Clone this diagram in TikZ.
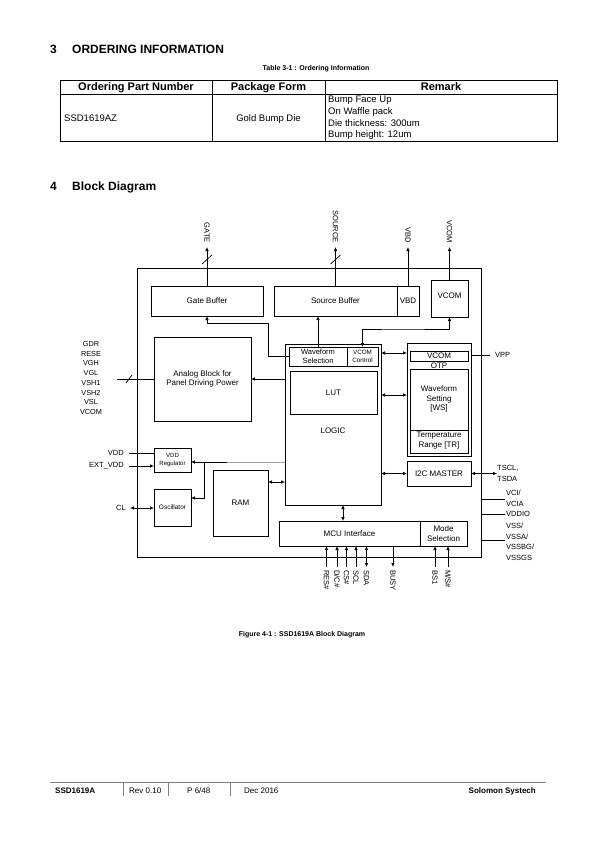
\documentclass[tikz,border=0pt]{standalone}
\usepackage{fontspec}
\setmainfont{Liberation Sans}
\usetikzlibrary{arrows.meta,calc}
\newcommand\mkbox[7][]{\node[bx,#1,minimum width={#5pt-#3pt},minimum height={#6pt-#4pt}] (#2) at ({(#3+#5)/2},{(#4+#6)/2}) {#7};}
\begin{document}
\begin{tikzpicture}[x=1pt,y=-1pt,
  bx/.style={draw, line width=0.7pt, inner sep=0pt, outer sep=0pt, align=center, font=\fontsize{8}{9.5}\selectfont},
  ln/.style={line width=0.7pt},
  arr/.style={ln, -{Latex[length=4pt,width=3.5pt]}},
  darr/.style={ln, {Latex[length=4pt,width=3.5pt]}-{Latex[length=4pt,width=3.5pt]}},
  lbl/.style={inner sep=0pt, align=left, font=\fontsize{7.3}{9.7}\selectfont},
  pin/.style={inner sep=0pt, font=\fontsize{7.5}{8.5}\selectfont},
  hd/.style={inner sep=0pt, anchor=base west, font=\fontsize{12}{14}\selectfont\bfseries},
  th/.style={inner sep=0pt, anchor=base, font=\fontsize{11}{13}\selectfont\bfseries},
  td/.style={inner sep=0pt, anchor=base, font=\fontsize{9.5}{11}\selectfont},
  ft/.style={inner sep=0pt, anchor=base west, font=\fontsize{8}{9}\selectfont},
]
\path[use as bounding box, fill=white] (0,0) rectangle (595,842);

% ---------- Section 3 ----------
\node[hd] (h3n) at (50,54) {3};
\node[hd] (h3t) at (72,54) {ORDERING INFORMATION};
\node[inner sep=0pt, font=\fontsize{7}{8}\selectfont\bfseries] (tcap) at (316,69) {Table 3-1 : Ordering Information};
\draw[ln] (60,80) rectangle (557,141);
\draw[ln] (60,94) -- (557,94);
\draw[ln] (212,80) -- (212,141);
\draw[ln] (325,80) -- (325,141);
\node[th] (th1) at (136,91) {Ordering Part Number};
\node[th] (th2) at (268.5,91) {Package Form};
\node[th] (th3) at (441,91) {Remark};
\node[td, anchor=base west] (td1) at (64,121.5) {SSD1619AZ};
\node[td] (td2) at (268.5,121.5) {Gold Bump Die};
\node[td, anchor=base west] (td3) at (328,103) {Bump Face Up};
\node[td, anchor=base west] (td4) at (328,114.7) {On Waffle pack};
\node[td, anchor=base west] (td5) at (328,126.4) {Die thickness: 300um};
\node[td, anchor=base west] (td6) at (328,138) {Bump height: 12um};

% ---------- Section 4 ----------
\node[hd] (h4n) at (50,191) {4};
\node[hd] (h4t) at (72,191) {Block Diagram};

% outer chip
\mkbox{chip}{137}{268}{481}{557}{}
% top blocks
\mkbox{gatebuf}{151}{286}{263}{316}{Gate Buffer}
\mkbox{srcbuf}{274}{286}{397}{316}{Source Buffer}
\mkbox{vbd}{397}{286}{419}{316}{VBD}
\mkbox{vcombox}{431}{280}{468}{317}{}
\node[inner sep=0pt, font=\fontsize{8}{9}\selectfont] (vcomtxt) at (449.5,295.5) {VCOM};

% top pins
\coordinate (ptop) at (300,247);
\draw[arr] (gatebuf.north) -- (gatebuf.north |- ptop) coordinate (gtip);
\draw[arr] (srcbuf.north) -- (srcbuf.north |- ptop) coordinate (stip);
\draw[arr] (vbd.north) -- (vbd.north |- ptop) coordinate (btip);
\draw[arr] (vcombox.north) -- (vcombox.north |- ptop) coordinate (ctip);
\draw[ln] ($(gtip)+(-5,17)$) -- ($(gtip)+(5,8)$);
\draw[ln] ($(stip)+(-5,17)$) -- ($(stip)+(5,8)$);
\node[pin, rotate=-90, anchor=east] (gatelbl) at ($(gtip)+(0,-4)$) {GATE};
\node[pin, rotate=-90, anchor=east] (srclbl) at ($(stip)+(0,-4)$) {SOURCE};
\node[pin, rotate=-90, anchor=east] (vbdlbl) at ($(btip)+(0,-4)$) {VBD};
\node[pin, rotate=-90, anchor=east] (vcomlbl) at ($(ctip)+(0,-4)$) {VCOM};

% analog block
\mkbox{analog}{154}{337}{251}{421}{Analog Block for\\Panel Driving Power}
\node[lbl, align=center] (pwrlbl) at (91,378) {GDR\\RESE\\VGH\\VGL\\VSH1\\VSH2\\VSL\\VCOM};
\coordinate (pwrend) at (117,379);
\draw[ln] (pwrend) -- (pwrend -| analog.west);
\draw[ln] ($(pwrend)+(9,4)$) -- ($(pwrend)+(15,-4)$);

% logic
\mkbox{logic}{285}{344}{381}{505}{}
\mkbox[font=\fontsize{7.5}{9}\selectfont]{wfsel}{289}{347}{347}{366}{Waveform\\Selection}
\mkbox[font=\fontsize{6.3}{7.5}\selectfont]{vcomctl}{347}{347}{378}{366}{VCOM\\Control}
\mkbox{lut}{290}{371}{377}{414}{LUT}
\node[inner sep=0pt, font=\fontsize{8}{9}\selectfont] (logictxt) at (333,431) {LOGIC};

\draw[arr] (logic.west |- analog.east) -- (analog.east);
\coordinate (wj) at (268,323);
\draw[arr] (wfsel.west) -| (wj) -| (gatebuf.south);
\draw[arr] (wfsel.north) -- (wfsel.north |- srcbuf.south);
\coordinate (vj) at (400,329);
\draw[darr] (vcomctl.north) |- (vj) -| (vcombox.south);

% OTP
\mkbox{otp}{407}{343}{471}{456}{}
\mkbox{otpin}{410}{369}{468}{453}{}
\coordinate (divy) at (440,430);
\draw[ln] (otpin.west |- divy) -- (otpin.east |- divy);
\mkbox{vcomotp}{410}{351}{468}{361}{VCOM}
\node[inner sep=0pt, font=\fontsize{8}{9}\selectfont] (otptxt) at (439,366) {OTP};
\node[inner sep=0pt, align=center, font=\fontsize{8}{9.2}\selectfont] (wstxt) at (439,399) {Waveform\\Setting\\{}[WS]};
\node[inner sep=0pt, align=center, font=\fontsize{8}{10}\selectfont] (trtxt) at (439,441) {Temperature\\{}Range [TR]};
\coordinate (r1) at (394,353);
\coordinate (r2) at (394,395);
\draw[darr] (logic.east |- r1) -- (otp.west |- r1);
\draw[darr] (logic.east |- r2) -- (otp.west |- r2);
\coordinate (vppend) at (490,355);
\draw[ln] (otp.east |- vppend) -- (vppend);
\node[pin, anchor=west] (vpplbl) at ($(vppend)+(5,0)$) {VPP};

% I2C
\mkbox{i2c}{407}{461}{471}{486}{I2C MASTER}
\draw[darr] (logic.east |- i2c.west) -- (i2c.west);
\coordinate (tsend) at (497,473.5);
\draw[darr] (i2c.east) -- (tsend);
\node[pin, anchor=west, align=left, font=\fontsize{7.5}{11}\selectfont] (tslbl) at (497,473.5) {TSCL,\\TSDA};

% right supply pins
\coordinate (s1) at (505,499);
\coordinate (s2) at (505,514);
\coordinate (s3) at (505,540);
\draw[ln] (chip.east |- s1) -- (s1);
\draw[ln] (chip.east |- s2) -- (s2);
\draw[ln] (chip.east |- s3) -- (s3);
\node[pin, anchor=west] (l1) at (506,493) {VCI/};
\node[pin, anchor=west] (l2) at (506,503.5) {VCIA};
\node[pin, anchor=west] (l3) at (506,514) {VDDIO};
\node[pin, anchor=west] (l4) at (506,526) {VSS/};
\node[pin, anchor=west] (l5) at (506,536.5) {VSSA/};
\node[pin, anchor=west] (l6) at (506,547) {VSSBG/};
\node[pin, anchor=west] (l7) at (506,557.5) {VSSGS};

% VDD regulator and oscillator
\mkbox[font=\fontsize{6}{7.5}\selectfont]{vddreg}{154}{448}{191}{472}{VDD\\Regulator}
\mkbox[font=\fontsize{6.5}{7.5}\selectfont]{osc}{154}{489}{191}{526}{Oscillator}
\node[pin, anchor=east] (vddlbl) at (124,453) {VDD};
\node[pin, anchor=east] (extlbl) at (124,466) {EXT\_VDD};
\node[pin, anchor=east] (cllbl) at (126,508) {CL};
\coordinate (vddst) at (129,453);
\coordinate (extst) at (129,466);
\coordinate (clst) at (130,508);
\draw[ln] (vddst) -- (vddst -| vddreg.west);
\draw[arr] (extst) -- (extst -| vddreg.west);
\draw[darr] (clst) -- (clst -| osc.west);

\coordinate (gj) at (227,462);
\coordinate (bj) at (204,462);
\draw[ln, gray!75] (logic.west |- gj) -- (gj);
\draw[arr] (gj) -- (gj -| vddreg.east);
\draw[arr] (bj) |- ($(osc.east)+(0,-9.5)$);

% RAM
\mkbox{ram}{213}{470}{268}{536}{RAM}
\coordinate (rj) at (276,482);
\draw[darr] (ram.east |- rj) -- (logic.west |- rj);

% MCU
\mkbox{mcu}{279}{521}{420}{546}{MCU Interface}
\mkbox{mode}{420}{521}{467}{546}{Mode\\Selection}
\coordinate (mj) at (343,510);
\draw[darr] (logic.south -| mj) -- (mcu.north -| mj);

\foreach \nm/\xx/\tx in {res/326.5/{RES\#}, dc/337/{D/C\#}, cs/346.5/{CS\#}, scl/356/{SCL}, bs/435/{BS1}, ms/448/{M/S\#}}{
  \coordinate (\nm p) at (\xx,567);
  \draw[arr] (\nm p) -- (\nm p |- mcu.south);
  \node[pin, rotate=-90, anchor=west] (\nm lbl) at (\xx,570) {\tx};
}
\coordinate (sdap) at (366.5,567);
\draw[darr] (sdap) -- (sdap |- mcu.south);
\node[pin, rotate=-90, anchor=west] (sdalbl) at (366.5,570) {SDA};
\coordinate (busyp) at (393,567);
\draw[arr] (busyp |- mcu.south) -- (busyp);
\node[pin, rotate=-90, anchor=west] (busylbl) at (393,570) {BUSY};

% figure caption
\node[inner sep=0pt, font=\fontsize{7}{8}\selectfont\bfseries] (figcap) at (302,635) {Figure 4-1 : SSD1619A Block Diagram};

% footer
\draw[line width=0.5pt, gray] (50,782) -- (546,782);
\draw[line width=0.5pt, gray] (123,782) -- (123,796);
\draw[line width=0.5pt, gray] (168,782) -- (168,796);
\draw[line width=0.5pt, gray] (230,782) -- (230,796);
\node[ft, font=\fontsize{8}{9}\selectfont\bfseries] (f1) at (55,793) {SSD1619A};
\node[ft] (f2) at (129,793) {Rev 0.10};
\node[ft] (f3) at (187,793) {P 6/48};
\node[ft] (f4) at (244,793) {Dec 2016};
\node[ft, anchor=base east, font=\fontsize{8}{9}\selectfont\bfseries] (f5) at (536,793) {Solomon Systech};
\end{tikzpicture}
\end{document}
